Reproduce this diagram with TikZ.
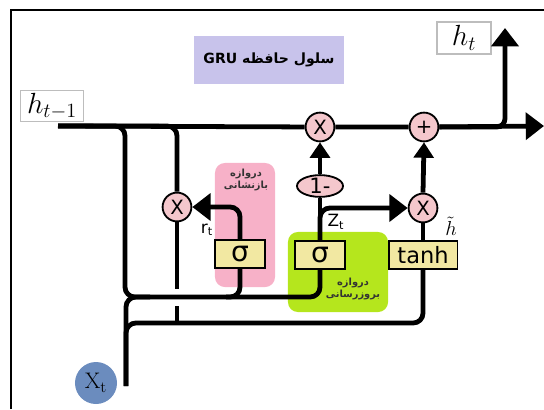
\documentclass[tikz,border=0pt]{standalone}
\usepackage{fontspec}
\setsansfont{DejaVu Sans}
\newfontfamily\farsi[Script=Arabic]{DejaVu Sans}
\TeXXeTstate=1
\usepackage{xcolor}
\usepackage{tikz}
\usetikzlibrary{shapes,arrows.meta,positioning}

\definecolor{titlebg}{HTML}{C8C3EB}
\definecolor{resetbg}{HTML}{F7B1C8}
\definecolor{updatebg}{HTML}{B5E61D}
\definecolor{actbg}{HTML}{F2E8A2}
\definecolor{opbg}{HTML}{F4C7CC}
\definecolor{inputbg}{HTML}{6B8CBE}
\definecolor{labelgray}{HTML}{BDBDBD}

\begin{document}
\begin{tikzpicture}[x=0.025cm, y=-0.025cm,
    wire/.style={line width=3.4pt},
    arrow/.style={wire, -{Triangle[length=13pt, width=19pt]}},
    smallarrow/.style={wire, -{Triangle[length=11pt, width=14pt]}},
    op/.style={circle, draw, fill=opbg, line width=1.3pt, minimum size=0.72cm, inner sep=0pt, font=\sffamily\fontsize{14}{14}\selectfont},
    act/.style={rectangle, draw, fill=actbg, line width=1.3pt, minimum height=0.68cm, inner sep=0pt, font=\sffamily\fontsize{16}{16}\selectfont},
    gatebox/.style={rectangle, rounded corners=7pt, inner sep=0pt},
    gatetext/.style={font=\farsi\bfseries\fontsize{7}{8.5}\selectfont, align=center, text=black!80},
    hlabel/.style={rectangle, draw=labelgray, line width=1.3pt, fill=white, inner sep=0pt, font=\fontsize{22}{26}\selectfont},
    sublabel/.style={font=\sffamily\fontsize{12}{12}\selectfont, inner sep=0pt}
]
\useasboundingbox (0,0) rectangle (544,409);

% Frame
\draw[line width=1pt] (11,409) -- (11,10) -- (544,10);

% Title
\node[rectangle, fill=titlebg, minimum width=3.75cm, minimum height=1.175cm,
    font=\farsi\bfseries\fontsize{10}{12}\selectfont] (title) at (269,60)
    {\beginR سلول حافظه \beginL GRU\endL\endR};

% Gates
\node[gatebox, fill=resetbg, minimum width=1.5cm, minimum height=3.1cm] (resetgate) at (245,225) {};
\node[gatebox, fill=updatebg, minimum width=2.5cm, minimum height=2cm] (updategate) at (338,272) {};
\node[gatetext] (resettext) at (246,180) {\beginR دروازه\endR\\\beginR بازنشانی\endR};
\node[gatetext] (updatetext) at (353,289) {\beginR دروازه\endR\\\beginR بروزرسانی\endR};

% Operators
\node[op] (hmul) at (320,127) {X};
\node[op] (hadd) at (424,127) {+};
\node[op] (rmul) at (177,207) {X};
\node[op] (zmul) at (423,208) {X};
\node[ellipse, draw, fill=opbg, line width=1.3pt, minimum width=1.15cm, minimum height=0.5cm, inner sep=0pt,
    font=\sffamily\fontsize{15}{15}\selectfont] (one) at (320,186) {1-};

% Activations
\node[act, minimum width=1.25cm, font=\sffamily\fontsize{20}{20}\selectfont] (sigr) at (240,254) {σ};
\node[act, minimum width=1.25cm, font=\sffamily\fontsize{20}{20}\selectfont] (sigz) at (320,255) {σ};
\node[act, minimum width=1.72cm] (tanh) at (423,255) {tanh};

% States and input
\node[hlabel, minimum width=1.575cm, minimum height=0.775cm] (hprev) at (52,106) {$h_{t-1}$};
\node[hlabel, minimum width=1.35cm, minimum height=0.78cm] (hnext) at (464,38) {$h_t$};
\node[circle, fill=inputbg, minimum size=1.05cm, inner sep=0pt, font=\fontsize{16}{16}\selectfont] (xt) at (96,383) {X$_\mathrm{t}$};

% Labels
\node[sublabel] (rlabel) at (207,230) {r\textsubscript{t}};
\node[sublabel] (zlabel) at (336,222) {Z\textsubscript{t}};
\node[font=\fontsize{14}{14}\selectfont, inner sep=0pt] (htilde) at (451,226) {$\tilde{h}$};

% Free ends
\coordinate (mainin) at (58,126);
\coordinate (mainout) at (544,126);
\coordinate (htout) at (505,28);
\coordinate (xin) at (126,386);
\coordinate (gaptop) at (177,289);
\coordinate (gapbot) at (177,306);
\coordinate (rjoin) at (177,323);
\coordinate (resetin) at (226,297);

% Main line
\draw[wire] (mainin) -- (hmul) -- (hadd);
\draw[arrow] (hadd) -- (mainout);
\draw[arrow, rounded corners=6pt] (hadd.east) -| (htout);

% h_{t-1} into the gates
\draw[wire, rounded corners=7pt] (mainin) -| (125,297) -| (sigz.south);
\draw[wire, rounded corners=7pt] (mainin) -| (rmul.north);
\draw[wire] (rmul.south) -- (gaptop);
\draw[wire] (gapbot) -- (rjoin);

% x_t into the gates
\draw[wire, rounded corners=7pt] (xin) |- (150,297);
\draw[wire, rounded corners=7pt] (xin) |- (rjoin) -| (tanh.south);

% Reset gate
\draw[wire, rounded corners=7pt] (sigr.south) |- (resetin);
\draw[arrow, rounded corners=7pt] (sigr.north) |- (rmul.east);

% Update gate
\draw[wire] (sigz.north) -- (one.south);
\draw[arrow, rounded corners=7pt] (sigz.north) |- (zmul.west);
\draw[smallarrow] (one.north) -- (hmul.south);

% Candidate
\draw[wire] (tanh.north) -- (zmul.south);
\draw[smallarrow] (zmul.north) -- (hadd.south);

\end{tikzpicture}
\end{document}
